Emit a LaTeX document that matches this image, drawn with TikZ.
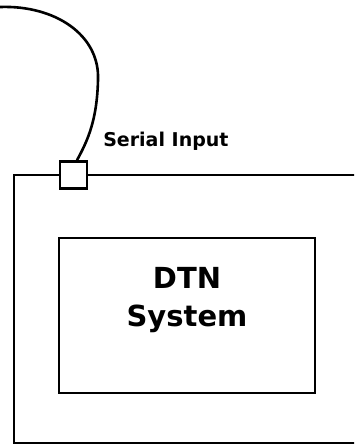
\documentclass[tikz,border=0pt]{standalone}
\usepackage{fontspec}
\setmainfont{DejaVu Sans}
\usetikzlibrary{positioning, calc}

\begin{document}
\begin{tikzpicture}[x=1pt, y=-1pt, line width=2.6pt]

		% Define block styles
		\tikzstyle{housing} = [rectangle, draw, minimum width=366pt, minimum height=268pt, inner sep=0pt]
		\tikzstyle{port} = [rectangle, draw, fill=white, minimum size=27pt, inner sep=0pt]
		\tikzstyle{sysbox} = [rectangle, draw, minimum width=256pt, minimum height=155pt, inner sep=0pt]
		\tikzstyle{tag} = [font=\bfseries\fontsize{19}{23}\selectfont, inner sep=0pt]

		\useasboundingbox (0,0) rectangle (354,445);
		\clip (0,0) rectangle (354,445);

		% Nodes
		\node[housing] (case) at (197,309) {};
		\node[port] (serial) at (73.5,175) {};
		\node[sysbox] (dtn) at (187,315.5) {};
		\node[font=\bfseries\fontsize{29}{38}\selectfont, align=center, inner sep=0pt] (dtntext) at (187,300) {DTN\\System};
		\node[tag, anchor=base west] (seriallabel) at (102,146) {Serial Input};
		\coordinate (plug) at (0,7);

		% Cable
		\draw (plug) .. controls (55,5) and (100,35) .. (98,80)
		      .. controls (97,120) and (88,140) .. ($(serial.north)+(3.5,0)$);

	\end{tikzpicture}
\end{document}
